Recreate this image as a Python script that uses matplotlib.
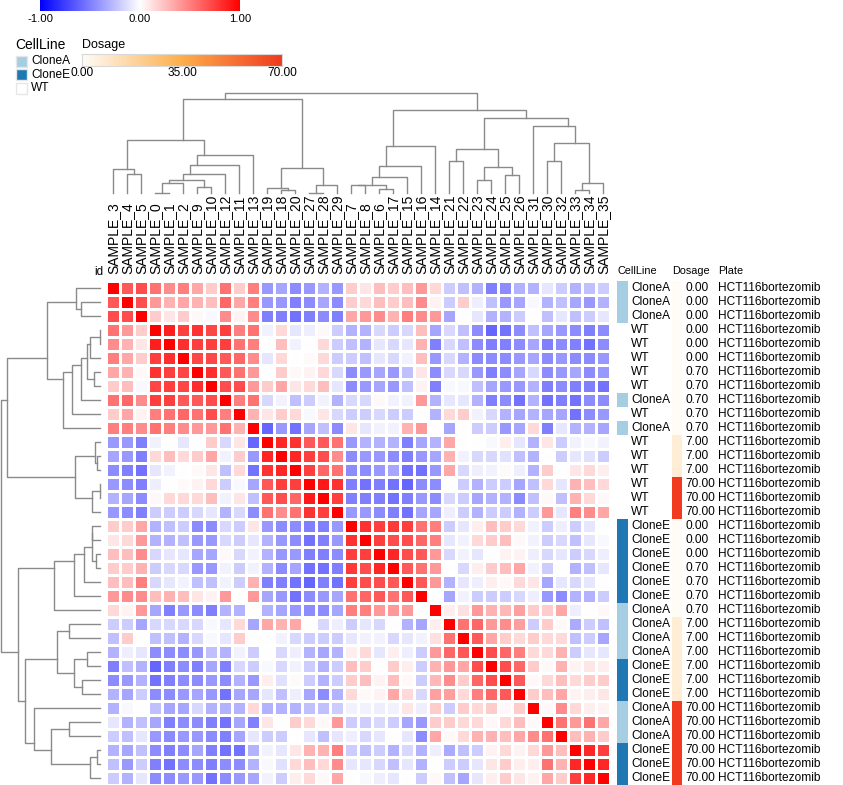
import numpy as np
import matplotlib
matplotlib.use("Agg")
import matplotlib.pyplot as plt
from matplotlib.colors import LinearSegmentedColormap, Normalize
from matplotlib.transforms import blended_transform_factory

plt.rcParams["font.family"] = ["Liberation Sans", "DejaVu Sans"]

# ---------------------------------------------------------------------------
# data (leaf order of the clustering, same for rows and columns)
# ---------------------------------------------------------------------------
samples = ["SAMPLE_3", "SAMPLE_4", "SAMPLE_5", "SAMPLE_0", "SAMPLE_1", "SAMPLE_2",
           "SAMPLE_9", "SAMPLE_10", "SAMPLE_12", "SAMPLE_11", "SAMPLE_13", "SAMPLE_19",
           "SAMPLE_18", "SAMPLE_20", "SAMPLE_27", "SAMPLE_28", "SAMPLE_29", "SAMPLE_7",
           "SAMPLE_8", "SAMPLE_6", "SAMPLE_17", "SAMPLE_15", "SAMPLE_16", "SAMPLE_14",
           "SAMPLE_21", "SAMPLE_22", "SAMPLE_23", "SAMPLE_24", "SAMPLE_25", "SAMPLE_26",
           "SAMPLE_31", "SAMPLE_30", "SAMPLE_32", "SAMPLE_33", "SAMPLE_34", "SAMPLE_35"]

cell_line = ["CloneA", "CloneA", "CloneA", "WT", "WT", "WT", "WT", "WT", "CloneA", "WT",
             "CloneA", "WT", "WT", "WT", "WT", "WT", "WT", "CloneE", "CloneE", "CloneE",
             "CloneE", "CloneE", "CloneE", "CloneA", "CloneA", "CloneA", "CloneA", "CloneE",
             "CloneE", "CloneE", "CloneA", "CloneA", "CloneA", "CloneE", "CloneE", "CloneE"]

dosage = [0, 0, 0, 0, 0, 0, 0.7, 0.7, 0.7, 0.7, 0.7, 7, 7, 7, 70, 70, 70,
          0, 0, 0, 0.7, 0.7, 0.7, 0.7, 7, 7, 7, 7, 7, 7, 70, 70, 70, 70, 70, 70]

plate = ["HCT116bortezomib"] * len(samples)

# upper triangle of the correlation matrix: row i holds columns i+1 .. 35
upper = [
    [0.65, 0.7, 0.55, 0.45, 0.5, 0.35, 0.2, 0.55, 0.2, 0.5, -0.4,
     -0.35, -0.45, -0.4, -0.3, -0.4, 0.2, 0.1, 0.25, 0.2, 0.25, 0.4, 0.15,
     -0.2, -0.25, -0.3, -0.5, -0.45, -0.3, -0.3, -0.1, -0.2, -0.3, -0.25, -0.2],
    [0.7, 0.4, 0.3, 0.35, 0.3, 0.25, 0.6, 0.35, 0.5, -0.4,
     -0.4, -0.5, -0.45, -0.35, -0.45, 0.2, 0.15, 0.25, 0.2, 0.25, 0.45, 0.05,
     -0.2, 0.2, -0.07, -0.25, -0.4, -0.35, -0.03, -0.3, -0.25, -0.35, -0.4, -0.3],
    [0.2, 0.1, 0.2, 0.03, -0.03, 0.45, 0.05, 0.45, -0.5,
     -0.5, -0.55, -0.5, -0.45, -0.5, 0.35, 0.4, 0.45, 0.3, 0.5, 0.45, 0.4,
     -0.35, 0.0, -0.1, -0.3, -0.3, -0.2, 0.0, -0.25, -0.1, -0.25, -0.2, -0.1],
    [0.88, 0.75, 0.8, 0.72, 0.75, 0.5, 0.55, -0.05,
     0.15, -0.1, -0.07, 0.03, -0.2, -0.3, -0.3, -0.15, -0.2, -0.15, 0.25, -0.35,
     -0.15, -0.25, -0.45, -0.6, -0.55, -0.45, -0.25, -0.35, -0.4, -0.45, -0.5, -0.45],
    [0.82, 0.75, 0.75, 0.75, 0.55, 0.5, 0.0,
     0.25, -0.05, 0.0, 0.15, -0.2, -0.25, -0.3, -0.1, -0.15, -0.1, 0.3, -0.5,
     -0.15, -0.25, -0.45, -0.5, -0.5, -0.45, -0.35, -0.5, -0.45, -0.5, -0.55, -0.45],
    [0.72, 0.72, 0.65, 0.6, 0.45, -0.1,
     0.15, 0.0, 0.02, 0.15, -0.2, -0.2, -0.25, -0.1, -0.15, -0.05, 0.25, -0.4,
     -0.15, -0.3, -0.45, -0.45, -0.45, -0.4, -0.35, -0.45, -0.4, -0.45, -0.45, -0.4],
    [0.82, 0.65, 0.55, 0.4, 0.0,
     0.2, 0.03, 0.05, 0.15, -0.15, -0.45, -0.4, -0.35, -0.4, -0.25, 0.1, -0.45,
     -0.15, -0.15, -0.4, -0.5, -0.45, -0.35, -0.15, -0.45, -0.4, -0.35, -0.45, -0.4],
    [0.7, 0.7, 0.4, 0.2,
     0.35, 0.1, 0.15, 0.25, -0.1, -0.45, -0.4, -0.35, -0.4, -0.25, 0.05, -0.5,
     -0.03, -0.03, -0.25, -0.35, -0.4, -0.4, -0.3, -0.5, -0.45, -0.5, -0.5, -0.55],
    [0.5, 0.55, -0.15,
     -0.05, -0.25, -0.2, -0.05, -0.3, -0.15, -0.15, 0.03, -0.05, -0.05, 0.4, -0.3,
     -0.1, -0.1, -0.3, -0.5, -0.45, -0.55, -0.3, -0.55, -0.5, -0.55, -0.45, -0.45],
    [0.3, 0.1,
     0.2, 0.15, -0.03, 0.1, -0.15, -0.2, -0.2, -0.15, -0.2, -0.2, 0.0, -0.3,
     0.15, 0.2, -0.05, -0.15, -0.3, -0.35, -0.3, -0.35, -0.35, -0.55, -0.45, -0.4],
    [-0.6,
     -0.4, -0.55, -0.35, -0.25, -0.45, 0.1, -0.1, -0.05, -0.05, 0.3, 0.4, 0.0,
     -0.35, 0.0, -0.2, -0.2, -0.4, -0.35, 0.15, -0.5, -0.1, -0.3, -0.3, -0.35],
    [0.85, 0.8, 0.65, 0.65, 0.55, -0.4, -0.3, -0.3, -0.3, -0.5, -0.35, -0.3,
     0.35, 0.0, 0.0, -0.03, 0.07, -0.1, -0.3, 0.1, -0.2, -0.05, -0.03, -0.05],
    [0.85, 0.75, 0.7, 0.45, -0.45, -0.4, -0.4, -0.45, -0.5, -0.4, -0.35,
     0.3, -0.05, -0.15, -0.15, -0.12, -0.25, -0.3, 0.0, -0.2, -0.1, -0.12, -0.2],
    [0.75, 0.6, 0.55, -0.45, -0.45, -0.4, -0.35, -0.55, -0.55, -0.4,
     0.35, -0.15, -0.07, -0.05, 0.02, -0.07, -0.3, 0.2, 0.0, 0.1, 0.15, 0.07],
    [0.9, 0.8, -0.5, -0.55, -0.5, -0.55, -0.6, -0.45, -0.45,
     0.0, -0.2, -0.3, -0.2, -0.2, -0.35, -0.25, 0.15, -0.1, 0.3, 0.25, 0.15],
    [0.75, -0.5, -0.5, -0.5, -0.55, -0.5, -0.4, -0.45,
     -0.15, -0.2, -0.35, -0.3, -0.3, -0.45, -0.25, 0.03, -0.25, 0.3, 0.15, 0.03],
    [-0.4, -0.4, -0.45, -0.5, -0.55, -0.35, -0.35,
     -0.07, -0.2, -0.3, -0.2, -0.2, -0.3, -0.2, 0.4, -0.1, 0.5, 0.45, 0.35],
    [0.8, 0.75, 0.78, 0.75, 0.55, 0.5,
     -0.2, -0.1, 0.07, 0.25, 0.2, 0.15, -0.05, -0.2, -0.07, -0.2, -0.1, 0.0],
    [0.75, 0.7, 0.7, 0.6, 0.5,
     -0.1, -0.05, 0.15, 0.2, 0.25, 0.03, -0.05, -0.2, -0.15, -0.25, -0.1, -0.03],
    [0.85, 0.7, 0.65, 0.4,
     -0.15, -0.05, -0.1, 0.0, 0.05, 0.05, -0.07, -0.15, -0.1, -0.2, -0.15, -0.07],
    [0.65, 0.55, 0.4,
     0.0, -0.15, 0.07, 0.2, 0.25, 0.35, -0.05, -0.2, 0.0, -0.3, -0.25, -0.1],
    [0.65, 0.4,
     -0.3, -0.1, -0.07, 0.07, 0.03, 0.15, 0.1, -0.35, -0.1, -0.15, -0.1, 0.0],
    [0.0,
     -0.35, -0.05, -0.2, -0.2, -0.2, -0.15, -0.07, -0.4, -0.45, -0.3, -0.3, -0.2],
    [0.07, 0.12, 0.4, 0.3, 0.28, 0.37, 0.2, 0.2, 0.35, -0.07, 0.0, 0.03],
    [0.55, 0.6, 0.4, 0.45, 0.38, -0.2, 0.2, 0.03, -0.33, -0.2, -0.25],
    [0.65, 0.35, 0.2, 0.15, 0.2, 0.15, 0.15, -0.25, -0.2, -0.35],
    [0.7, 0.6, 0.5, 0.15, 0.15, 0.3, -0.2, -0.1, -0.1],
    [0.7, 0.6, 0.2, 0.03, 0.3, 0.05, 0.1, 0.07],
    [0.65, 0.03, 0.15, 0.25, 0.15, 0.2, 0.2],
    [0.2, 0.25, 0.35, 0.05, 0.07, 0.1],
    [0.03, 0.45, 0.15, 0.07, 0.05],
    [0.55, 0.4, 0.55, 0.35],
    [0.25, 0.3, 0.2],
    [0.85, 0.75],
    [0.85],
]

# hierarchical clustering merges: (node, left, right, distance)
merges = [
    ("m0", "SAMPLE_4", "SAMPLE_5", 0.19),
    ("m1", "SAMPLE_3", "m0", 0.24),
    ("m2", "SAMPLE_0", "SAMPLE_1", 0.003),
    ("m3", "m2", "SAMPLE_2", 0.097),
    ("m4", "SAMPLE_9", "SAMPLE_10", 0.057),
    ("m5", "m3", "m4", 0.127),
    ("m6", "m5", "SAMPLE_12", 0.187),
    ("m7", "m6", "SAMPLE_11", 0.283),
    ("m8", "m7", "SAMPLE_13", 0.377),
    ("m9", "m1", "m8", 0.533),
    ("m10", "SAMPLE_18", "SAMPLE_20", 0.033),
    ("m11", "SAMPLE_19", "m10", 0.047),
    ("m12", "SAMPLE_27", "SAMPLE_28", 0.003),
    ("m13", "m12", "SAMPLE_29", 0.08),
    ("m14", "m11", "m13", 0.25),
    ("m15", "m9", "m14", 0.943),
    ("m16", "SAMPLE_7", "SAMPLE_8", 0.077),
    ("m17", "SAMPLE_6", "SAMPLE_17", 0.04),
    ("m18", "m16", "m17", 0.083),
    ("m19", "m18", "SAMPLE_15", 0.16),
    ("m20", "m19", "SAMPLE_16", 0.267),
    ("m21", "m20", "SAMPLE_14", 0.467),
    ("m22", "SAMPLE_21", "SAMPLE_22", 0.317),
    ("m23", "SAMPLE_23", "SAMPLE_24", 0.133),
    ("m24", "SAMPLE_25", "SAMPLE_26", 0.183),
    ("m25", "m23", "m24", 0.26),
    ("m26", "m22", "m25", 0.437),
    ("m27", "SAMPLE_30", "SAMPLE_32", 0.317),
    ("m28", "SAMPLE_33", "SAMPLE_34", 0.03),
    ("m29", "m28", "SAMPLE_35", 0.097),
    ("m30", "m27", "m29", 0.5),
    ("m31", "SAMPLE_31", "m30", 0.667),
    ("m32", "m26", "m31", 0.753),
    ("m33", "m21", "m32", 0.833),
    ("m34", "m15", "m33", 1.0),
]

n = len(samples)
corr = np.eye(n)
for i, row in enumerate(upper):
    corr[i, i + 1:] = row
    corr[i + 1:, i] = row

cell_colors = {"CloneA": "#a6cee3", "CloneE": "#1f78b4", "WT": "#ffffff"}
heat_cmap = LinearSegmentedColormap.from_list("bwr_m", ["#0000ff", "#ffffff", "#ff0000"])
dose_cmap = LinearSegmentedColormap.from_list("dose", ["#fffcf8", "#fdae4b", "#f03b20"])
dose_norm = Normalize(0, 70)

W, H = 843, 785


def px_rect(x0, y0, x1, y1):
    return [x0 / W, 1 - y1 / H, (x1 - x0) / W, (y1 - y0) / H]


def tree_segments(merges, leaves):
    nodes = {name: (i + 0.5, 0.0, 1) for i, name in enumerate(leaves)}
    segs = []
    for name, a, b, d in merges:
        pa, ha, ca = nodes[a]
        pb, hb, cb = nodes[b]
        segs.append(([pa, pa, pb, pb], [ha, d, d, hb]))
        nodes[name] = ((pa * ca + pb * cb) / (ca + cb), d, ca + cb)
    return segs


fig = plt.figure(figsize=(W / 100, H / 100), dpi=100)

# heatmap
ax = fig.add_axes(px_rect(106, 281, 610, 785))
ax.pcolormesh(np.arange(n + 1), np.arange(n + 1), corr, cmap=heat_cmap, vmin=-1, vmax=1,
              edgecolors="white", linewidth=0.8)
ax.set_xlim(0, n)
ax.set_ylim(n, 0)
ax.axis("off")

# column labels
tr = blended_transform_factory(ax.transData, fig.transFigure)
for i, s in enumerate(samples):
    ax.text(i + 0.5, 1 - 274 / H, s, rotation=90, ha="center", va="bottom",
            fontsize=10, transform=tr)
fig.text(103 / W, 1 - 275 / H, "id", ha="right", va="baseline", fontsize=8.3)

# dendrograms
segs = tree_segments(merges, samples)
ax_col = fig.add_axes(px_rect(106, 93, 610, 193))
ax_row = fig.add_axes(px_rect(1, 281, 100, 785))
for xs, ys in segs:
    ax_col.plot(xs, ys, color="#8a8a8a", lw=1.0, clip_on=False)
    ax_row.plot(ys, xs, color="#8a8a8a", lw=1.0, clip_on=False)
ax_col.set_xlim(0, n)
ax_col.set_ylim(0, 1)
ax_col.axis("off")
ax_row.set_xlim(1, 0)
ax_row.set_ylim(n, 0)
ax_row.axis("off")

# row annotations
ax_ann = fig.add_axes(px_rect(610, 281, 843, 785))
ax_ann.set_xlim(610, 843)
ax_ann.set_ylim(n, 0)
ax_ann.axis("off")
rows = np.arange(n) + 0.5
ax_ann.barh(rows, 11, left=617, height=0.94, color=[cell_colors[c] for c in cell_line])
ax_ann.barh(rows, 10, left=672, height=0.94, color=dose_cmap(dose_norm(np.array(dosage))))
for y, c, d, p in zip(rows, cell_line, dosage, plate):
    ax_ann.text(631, y, c, va="center", ha="left", fontsize=8.6)
    ax_ann.text(685, y, f"{d:.2f}", va="center", ha="left", fontsize=8.6)
    ax_ann.text(718, y, p, va="center", ha="left", fontsize=8.6)
for x, lab in [(617, "CellLine"), (672, "Dosage"), (718, "Plate")]:
    ax_ann.text(x, -0.72, lab, va="center", ha="left", fontsize=7.8, clip_on=False)

# heatmap colour bar
ax_cb = fig.add_axes(px_rect(40, 0, 240, 11))
ax_cb.imshow(np.linspace(-1, 1, 256)[None, :], cmap=heat_cmap, aspect="auto",
             extent=[-1, 1, 0, 1])
ax_cb.axis("off")
for x, v in [(40, -1.0), (140, 0.0), (240, 1.0)]:
    fig.text(x / W, 1 - 19 / H, f"{v:.2f}", ha="center", va="center", fontsize=8.2)

# CellLine legend
fig.text(15 / W, 1 - 45 / H, "CellLine", ha="left", va="center", fontsize=10)
ax_leg = fig.add_axes(px_rect(0, 50, 80, 100))
ax_leg.set_xlim(0, 80)
ax_leg.set_ylim(100, 50)
ax_leg.axis("off")
legend_items = ["CloneA", "CloneE", "WT"]
leg_y = [61, 74.5, 88]
ax_leg.bar([21] * 3, [11] * 3, bottom=[y - 5.5 for y in leg_y], width=11,
           color=[cell_colors[c] for c in legend_items], edgecolor="#e6e6e6", linewidth=1)
for y, lab in zip(leg_y, legend_items):
    ax_leg.text(31, y, lab, ha="left", va="center", fontsize=8.6)

# Dosage legend
fig.text(82 / W, 1 - 45 / H, "Dosage", ha="left", va="center", fontsize=9)
ax_dcb = fig.add_axes(px_rect(82, 54, 282, 66))
ax_dcb.imshow(np.linspace(0, 70, 256)[None, :], cmap=dose_cmap, aspect="auto",
              extent=[0, 70, 0, 1])
ax_dcb.set_xticks([])
ax_dcb.set_yticks([])
for sp in ax_dcb.spines.values():
    sp.set_color("#d9d9d9")
for x, v in [(82, 0.0), (182, 35.0), (282, 70.0)]:
    fig.text(x / W, 1 - 73 / H, f"{v:.2f}", ha="center", va="center", fontsize=8.6)

fig.savefig("out.png", dpi=100, facecolor="white")
